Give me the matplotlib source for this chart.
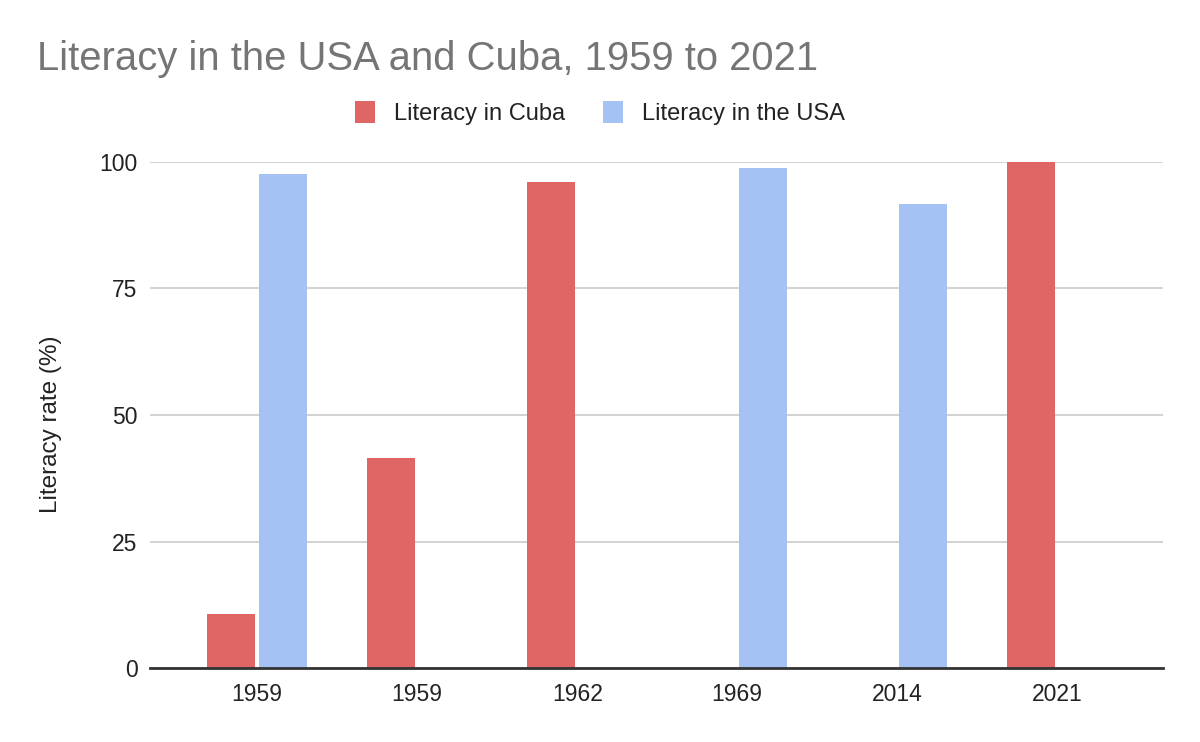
import numpy as np
import matplotlib.pyplot as plt

plt.rcParams['font.family'] = ['Liberation Sans', 'DejaVu Sans']

# data
years = ['1959', '1959', '1962', '1969', '2014', '2021']
cuba = [10.7, 41.5, 96.0, 0, 0, 100.0]
usa = [97.6, 0, 0, 98.8, 91.7, 0]

red = '#e06666'
blue = '#a4c2f4'

fig = plt.figure(figsize=(12, 7.42), dpi=100)
ax = fig.add_axes([0.125, 0.0997, 0.844, 0.682])

x = np.arange(len(years))
w = 0.3
ax.bar(x - 0.1625, cuba, w, color=red, label='Literacy in Cuba', zorder=3)
ax.bar(x + 0.1625, usa, w, color=blue, label='Literacy in the USA', zorder=3)

ax.set_xlim(-0.67, 5.66)
ax.set_ylim(0, 100)
ax.set_yticks([0, 25, 50, 75, 100])
ax.set_xticks(x)
ax.set_xticklabels(years)
ax.yaxis.grid(True, color='#cccccc', linewidth=1.2, zorder=0)
ax.set_axisbelow(True)
for s in ['top', 'right', 'left']:
    ax.spines[s].set_visible(False)
ax.spines['bottom'].set_color('#333333')
ax.spines['bottom'].set_linewidth(2)
ax.spines['bottom'].set_zorder(4)
ax.tick_params(axis='both', length=0, labelsize=16.5, colors='#222222')
ax.tick_params(axis='x', pad=11)
ax.tick_params(axis='y', pad=9)
ax.set_ylabel('Literacy rate (%)', fontsize=17.5, color='#222222')
ax.yaxis.set_label_coords(-0.087, 0.482)

fig.text(0.031, 0.905, 'Literacy in the USA and Cuba, 1959 to 2021', fontsize=28.8,
         color='#757575', va='baseline')

leg = fig.legend(loc='center', bbox_to_anchor=(0.5, 0.848), ncol=2, frameon=False,
                 fontsize=17, handlelength=0.85, handleheight=1.1, columnspacing=1.6,
                 handletextpad=0.8)
for t in leg.get_texts():
    t.set_color('#222222')

fig.savefig('out.png', dpi=100)
